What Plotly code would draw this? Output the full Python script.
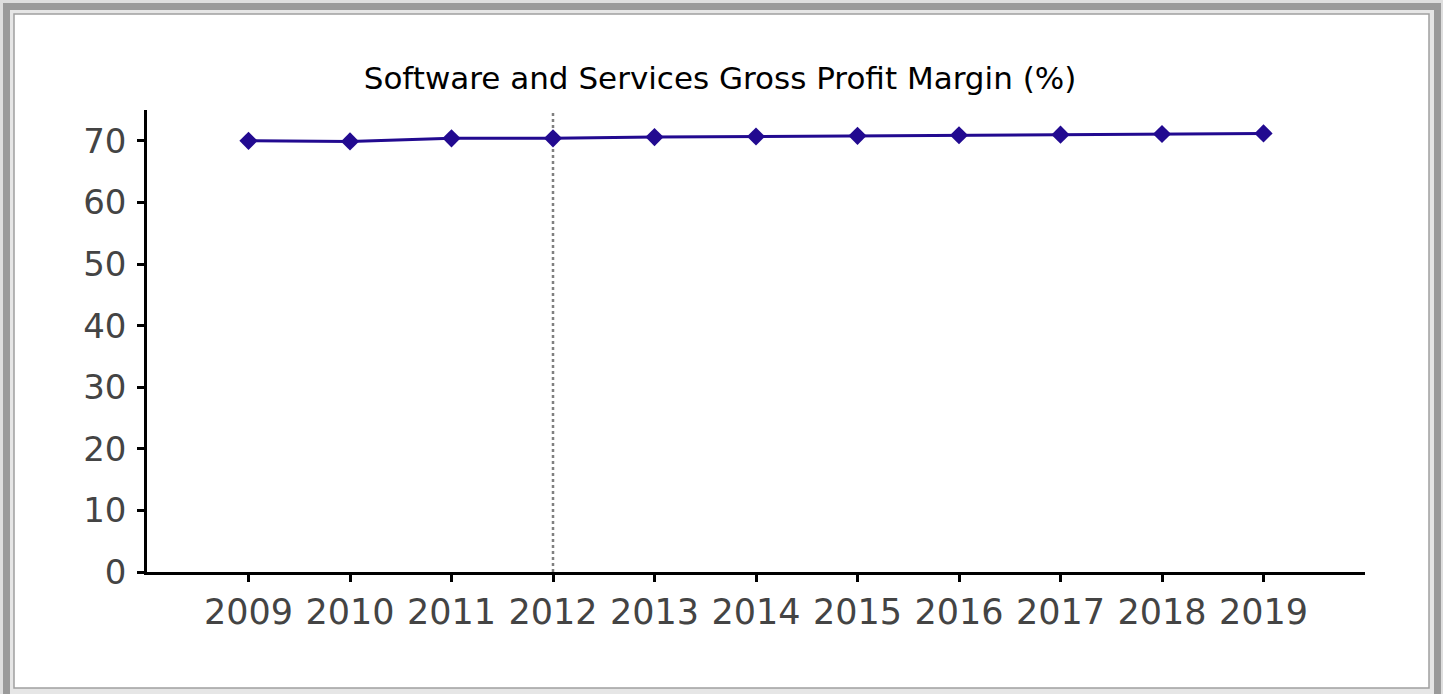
import plotly.graph_objects as go

years = [2009, 2010, 2011, 2012, 2013, 2014, 2015, 2016, 2017, 2018, 2019]
margin_pct = [70.0, 69.9, 70.4, 70.4, 70.6, 70.7, 70.8, 70.9, 71.0, 71.1, 71.2]
y_ticks = [0, 10, 20, 30, 40, 50, 60, 70]
title_text = "Software and Services Gross Profit Margin (%)"
marker_year = 2012

W, H = 1443, 694
L, R, T, B = 147, 1365, 110, 572


def px(x):
    return (x - L) / (R - L)


def py(y):
    return (B - y) / (B - T)


fig = go.Figure()
fig.add_trace(go.Scatter(
    x=years, y=margin_pct, mode="lines+markers",
    line=dict(color="#220a90", width=3),
    marker=dict(symbol="diamond", size=14, color="#220a90"),
    showlegend=False, hoverinfo="x+y",
))

shapes = [
    dict(type="rect", xref="paper", yref="paper", x0=px(0), x1=px(W), y0=py(0), y1=py(H),
         fillcolor="#dedede", line=dict(width=0), layer="below"),
    dict(type="rect", xref="paper", yref="paper", x0=px(3), x1=px(1441), y0=py(3), y1=py(H + 10),
         fillcolor="#9a9a9a", line=dict(width=0), layer="below"),
    dict(type="rect", xref="paper", yref="paper", x0=px(10), x1=px(1434), y0=py(10), y1=py(H + 10),
         fillcolor="#e6e6e6", line=dict(width=0), layer="below"),
    dict(type="rect", xref="paper", yref="paper", x0=px(14), x1=px(1429), y0=py(14), y1=py(688),
         fillcolor="#ffffff", line=dict(color="#a0a0a0", width=1.5), layer="below"),
    dict(type="line", xref="x", yref="paper", x0=marker_year, x1=marker_year, y0=0, y1=1,
         line=dict(color="#808080", width=2.5, dash="dot"), layer="below"),
]

fig.update_layout(
    width=W, height=H,
    margin=dict(l=L, r=W - R, t=T, b=H - B, pad=0),
    paper_bgcolor="#ffffff",
    plot_bgcolor="rgba(0,0,0,0)",
    shapes=shapes,
    title=dict(text=title_text, x=720 / W, xref="container", xanchor="center",
               y=1 - 78 / H, yref="container", yanchor="middle",
               font=dict(family="DejaVu Sans", size=31, color="#000000")),
    xaxis=dict(
        range=[2008, 2020], tickmode="array", tickvals=years, ticktext=[str(y) for y in years],
        showgrid=False, zeroline=False, showline=True, linecolor="#000000", linewidth=2.5,
        ticks="outside", ticklen=7, tickwidth=2.5, tickcolor="#000000",
        tickfont=dict(family="DejaVu Sans", size=35, color="#444444"),
        ticklabelstandoff=0,
    ),
    yaxis=dict(
        range=[0, 75], tickmode="array", tickvals=y_ticks,
        showgrid=False, zeroline=False, showline=True, linecolor="#000000", linewidth=2.5,
        ticks="outside", ticklen=7, tickwidth=2.5, tickcolor="#000000",
        tickfont=dict(family="DejaVu Sans", size=34, color="#444444"),
        ticklabelstandoff=4,
    ),
    font=dict(family="DejaVu Sans"),
)

fig.write_html("out.html", config={"displayModeBar": False},
               post_script="document.body.style.margin='0';")
